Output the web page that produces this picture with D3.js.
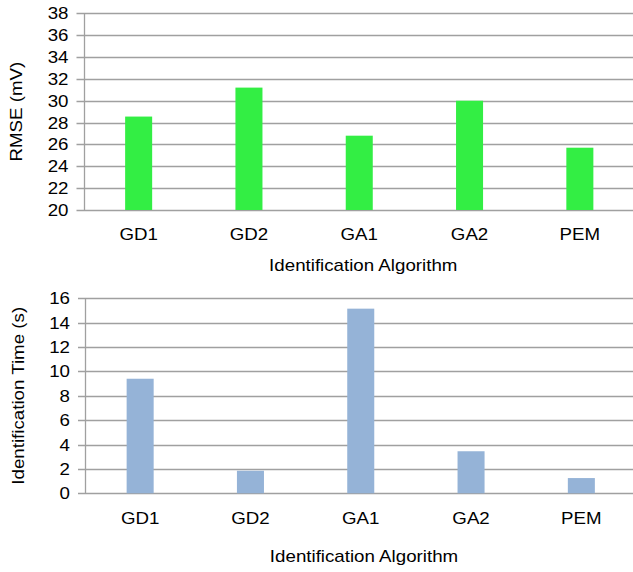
<!DOCTYPE html>
<html>
<head>
<meta charset="utf-8">
<script src="https://cdn.jsdelivr.net/npm/d3@7"></script>
<style>
  html, body { margin: 0; padding: 0; background: #fff; }
  svg { display: block; }
  text { font-family: "Liberation Sans", Arial, sans-serif; fill: #000; }
</style>
</head>
<body>
<svg id="chart" width="633" height="572"></svg>
<script>
// Algorithms compared
const algorithms = ["GD1", "GD2", "GA1", "GA2", "PEM"];
// Root mean square error of each identified model (mV)
const rmseValues = [28.55, 31.2, 26.8, 30.0, 25.7];
// Time taken by each identification run (s)
const timeValues = [9.4, 1.85, 15.15, 3.45, 1.25];
// Y-axis tick labels
const rmseTicks = [20, 22, 24, 26, 28, 30, 32, 34, 36, 38];
const timeTicks = [0, 2, 4, 6, 8, 10, 12, 14, 16];

const svg = d3.select("#chart");
const TEXT_STRETCH = 1.17;   // wide glyph look of the labels

function stretchedText(parent, x, y, str, anchor, rotate) {
  const g = parent.append("g")
    .attr("transform", `translate(${x},${y})` + (rotate ? ` rotate(${rotate})` : ""));
  g.append("text")
    .attr("transform", `scale(${TEXT_STRETCH},1)`)
    .attr("text-anchor", anchor)
    .style("font-size", "16px")
    .text(str);
  return g;
}

function barPanel(opts) {
  const { left, right, top, bottom, domain, ticks, values, color,
          yTitle, yTitleX, labelY, titleY } = opts;
  const step = 110.3;
  const x = d3.scaleBand()
    .domain(algorithms)
    .range([left, left + step * algorithms.length])
    .paddingInner(0.755)
    .paddingOuter(0.3775);
  const y = d3.scaleLinear().domain(domain).range([bottom, top]);

  const g = svg.append("g");

  // horizontal gridlines with outward ticks
  g.append("g").selectAll("line").data(ticks).join("line")
    .attr("x1", left - 7).attr("x2", right)
    .attr("y1", d => Math.round(y(d)) + 0.5).attr("y2", d => Math.round(y(d)) + 0.5)
    .attr("stroke", "#a0a0a0").attr("stroke-width", 1.3);

  // vertical axis line
  g.append("line")
    .attr("x1", Math.round(left) + 0.5).attr("x2", Math.round(left) + 0.5)
    .attr("y1", y(domain[1])).attr("y2", y(domain[0]))
    .attr("stroke", "#a0a0a0").attr("stroke-width", 1.3);

  // bars
  g.append("g").selectAll("rect").data(values).join("rect")
    .attr("x", (d, i) => x(algorithms[i]))
    .attr("width", x.bandwidth())
    .attr("y", d => y(d))
    .attr("height", d => y(domain[0]) - y(d))
    .attr("fill", color);

  // y tick labels
  ticks.forEach(t => stretchedText(g, left - 15, y(t) + 6, String(t), "end"));

  // category labels
  algorithms.forEach(a => stretchedText(g, x(a) + x.bandwidth() / 2, labelY, a, "middle"));

  // axis titles
  stretchedText(g, (left + right) / 2 + 5, titleY, "Identification Algorithm", "middle");
  stretchedText(g, yTitleX, (top + bottom) / 2, yTitle, "middle", -90);
}

barPanel({
  left: 83.5, right: 633, top: 13.3, bottom: 210,
  domain: [20, 38], ticks: rmseTicks, values: rmseValues,
  color: "#33ee44", yTitle: "RMSE (mV)", yTitleX: 22,
  labelY: 239.5, titleY: 271
});

barPanel({
  left: 85, right: 633, top: 298.3, bottom: 493.3,
  domain: [0, 16], ticks: timeTicks, values: timeValues,
  color: "#95b3d7", yTitle: "Identification Time (s)", yTitleX: 24,
  labelY: 523.5, titleY: 561.5
});
</script>
</body>
</html>
